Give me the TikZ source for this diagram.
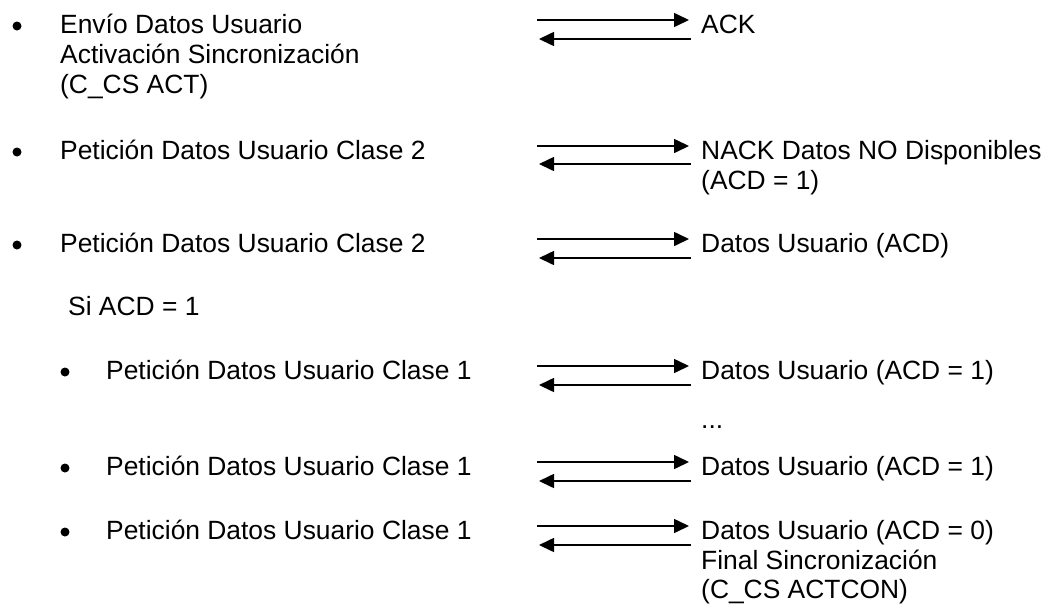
\documentclass[tikz,border=0pt]{standalone}
\usepackage{fontspec}
\setmainfont{Liberation Sans}
\usetikzlibrary{arrows.meta}
\begin{document}
\begin{tikzpicture}[x=1pt,y=-1pt,
  txt/.style={anchor=base west, inner sep=0pt, font=\fontsize{26.4}{30}\selectfont},
  bul/.style={circle, fill=black, inner sep=0pt, minimum size=9pt},
  msg/.style={line width=1.6pt, -{Triangle[length=15pt,width=14pt]}}]
\useasboundingbox (0,0) rectangle (1046,603);

% ---- Row 1
\node[bul] (b1) at (17,26) {};
\node[txt] (l1a) at (60,33) {Envío Datos Usuario};
\node[txt] (l1b) at (60,63) {Activación Sincronización};
\node[txt] (l1c) at (60,93) {(C\_CS ACT)};
\node[txt] (r1a) at (701,33) {ACK};
\coordinate (s1) at (537,20); \coordinate (t1) at (689,20);
\coordinate (u1) at (691,39); \coordinate (v1) at (539,39);
\draw[msg] (s1) -- (t1);
\draw[msg] (u1) -- (v1);

% ---- Row 2
\node[bul] (b2) at (17,152) {};
\node[txt] (l2a) at (60,159) {Petición Datos Usuario Clase 2};
\node[txt] (r2a) at (701,159) {NACK Datos NO Disponibles};
\node[txt] (r2b) at (701,189) {(ACD = 1)};
\coordinate (s2) at (537,146); \coordinate (t2) at (689,146);
\coordinate (u2) at (691,164); \coordinate (v2) at (539,164);
\draw[msg] (s2) -- (t2);
\draw[msg] (u2) -- (v2);

% ---- Row 3
\node[bul] (b3) at (17,245) {};
\node[txt] (l3a) at (60,252) {Petición Datos Usuario Clase 2};
\node[txt] (r3a) at (701,252) {Datos Usuario (ACD)};
\coordinate (s3) at (537,239); \coordinate (t3) at (689,239);
\coordinate (u3) at (691,258); \coordinate (v3) at (539,258);
\draw[msg] (s3) -- (t3);
\draw[msg] (u3) -- (v3);

% ---- Si ACD = 1
\node[txt] (si) at (68,315) {Si ACD = 1};

% ---- Row 4
\node[bul] (b4) at (65,372) {};
\node[txt] (l4a) at (106,379) {Petición Datos Usuario Clase 1};
\node[txt] (r4a) at (701,379) {Datos Usuario (ACD = 1)};
\coordinate (s4) at (537,366); \coordinate (t4) at (689,366);
\coordinate (u4) at (691,385); \coordinate (v4) at (539,385);
\draw[msg] (s4) -- (t4);
\draw[msg] (u4) -- (v4);

% ---- dots
\node[txt] (dots) at (701,428) {...};

% ---- Row 5
\node[bul] (b5) at (65,468) {};
\node[txt] (l5a) at (106,475) {Petición Datos Usuario Clase 1};
\node[txt] (r5a) at (701,475) {Datos Usuario (ACD = 1)};
\coordinate (s5) at (537,462); \coordinate (t5) at (689,462);
\coordinate (u5) at (691,481); \coordinate (v5) at (539,481);
\draw[msg] (s5) -- (t5);
\draw[msg] (u5) -- (v5);

% ---- Row 6
\node[bul] (b6) at (65,532) {};
\node[txt] (l6a) at (106,539) {Petición Datos Usuario Clase 1};
\node[txt] (r6a) at (701,539) {Datos Usuario (ACD = 0)};
\node[txt] (r6b) at (701,569) {Final Sincronización};
\node[txt] (r6c) at (701,598) {(C\_CS ACTCON)};
\coordinate (s6) at (537,526); \coordinate (t6) at (689,526);
\coordinate (u6) at (691,545); \coordinate (v6) at (539,545);
\draw[msg] (s6) -- (t6);
\draw[msg] (u6) -- (v6);
\end{tikzpicture}
\end{document}
